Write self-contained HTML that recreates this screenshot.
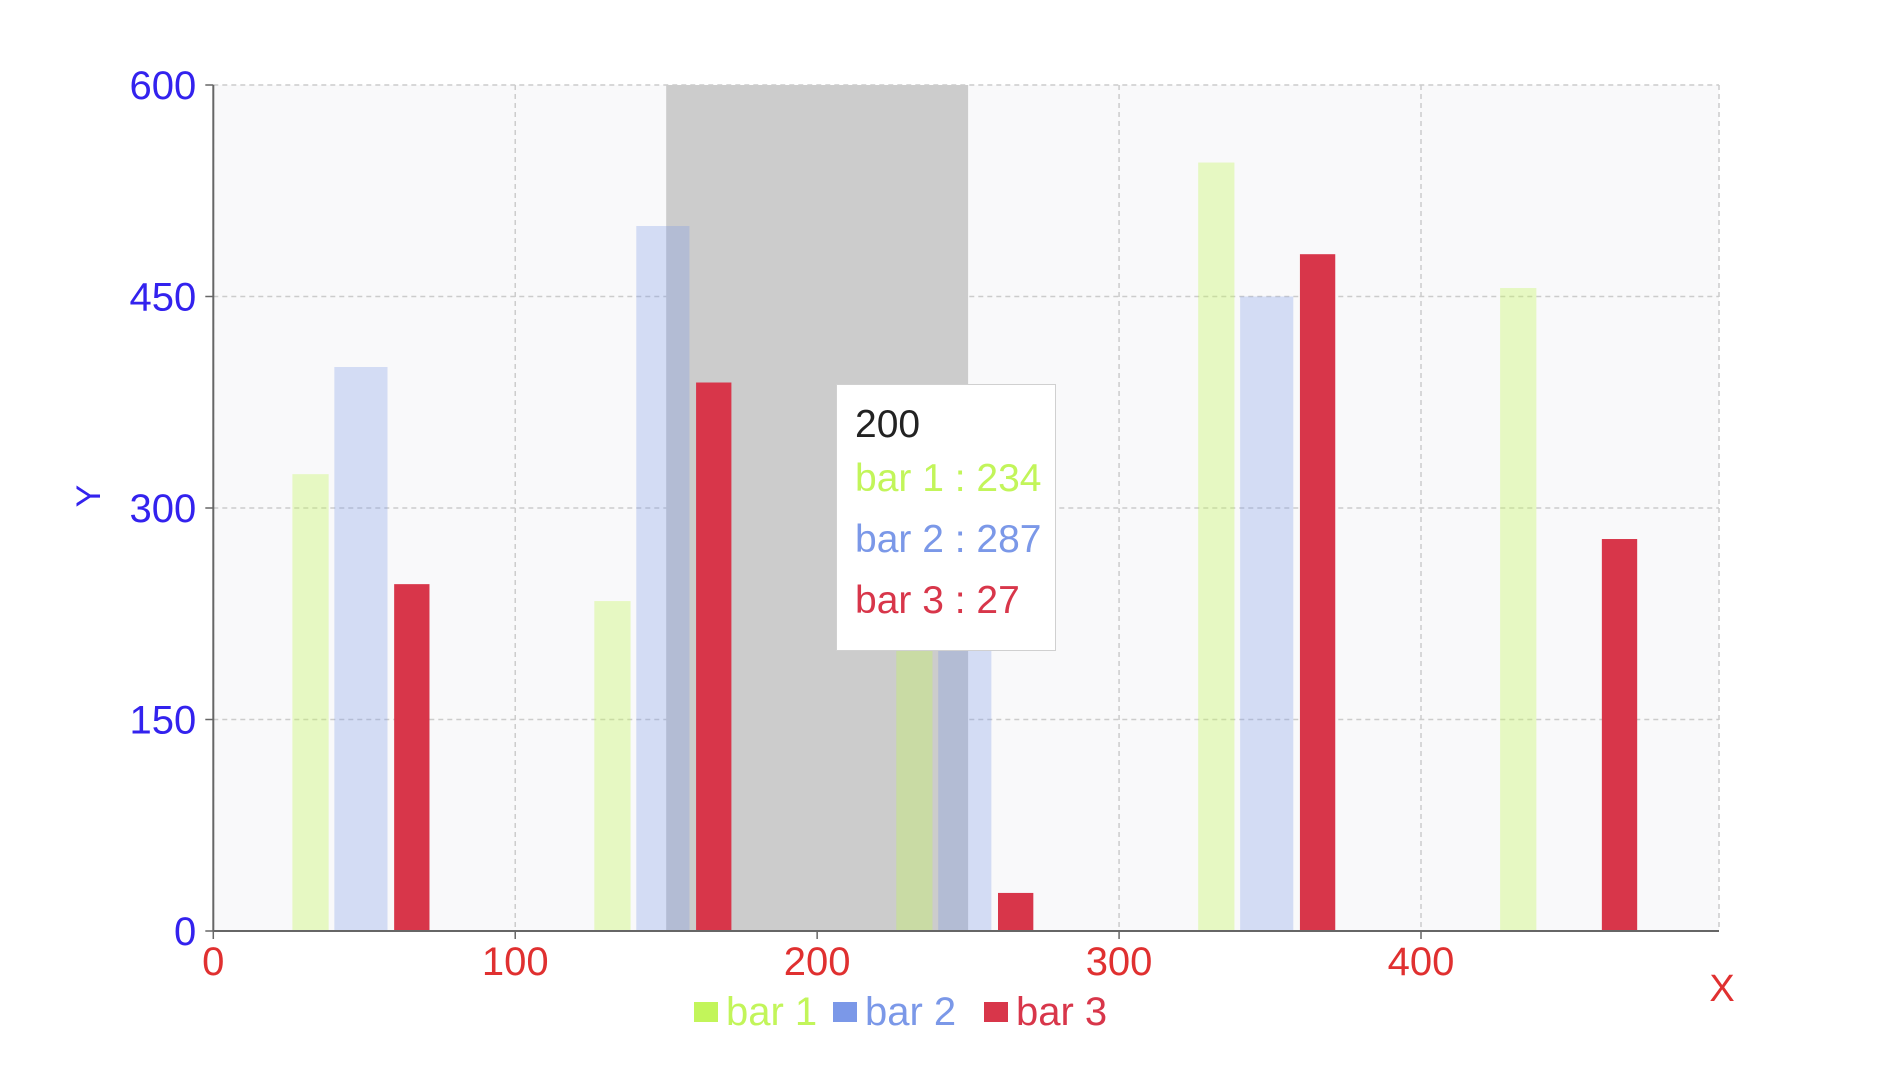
<!DOCTYPE html>
<html><head><meta charset="utf-8"><style>
html,body{margin:0;padding:0;background:#fff;}
svg{display:block;font-family:"Liberation Sans",sans-serif;}
</style></head><body>
<svg id="chart" width="1877" height="1079">
<rect x="213.3" y="85" width="1505.7" height="846" fill="#f9f9fa"/>
<g id="grid"></g>
<rect id="hl" fill="#cccccc"/>
<g id="bars"></g>
<g id="axes"></g>
<g>
  <rect x="694" y="1002" width="24" height="20" fill="#c2f55a"/>
  <text x="726" y="1025" font-size="40" fill="#c2f55a">bar 1</text>
  <rect x="833" y="1002" width="24" height="20" fill="#7b98e8"/>
  <text x="865" y="1025" font-size="40" fill="#7b98e8">bar 2</text>
  <rect x="984" y="1002" width="24" height="20" fill="#d8364a"/>
  <text x="1016" y="1025" font-size="40" fill="#d8364a">bar 3</text>
</g>
<text x="1722" y="1001" font-size="38" fill="#e03030" text-anchor="middle">X</text>
<text transform="translate(100,496) rotate(-90)" font-size="34" fill="#3322ee" text-anchor="middle">Y</text>
<g>
  <rect x="836.5" y="384.5" width="219" height="266" fill="#fff" stroke="#d0d0d0"/>
  <text x="855" y="437" font-size="39" fill="#222">200</text>
  <text x="855" y="491" font-size="39" fill="#c2f55a">bar 1 : 234</text>
  <text x="855" y="552" font-size="39" fill="#7b98e8">bar 2 : 287</text>
  <text x="855" y="613" font-size="39" fill="#d8364a">bar 3 : 27</text>
</g>
</svg>
<script>
const categories = [0, 100, 200, 300, 400];
const bar1 = [324, 234, 234, 545, 456];
const bar2 = [400, 500, 287, 450, 0];
const bar3 = [246, 389, 27, 480, 278];
const xTicks = [0, 100, 200, 300, 400];
const yTicks = [0, 150, 300, 450, 600];
const highlightRange = [150, 250];

const NS = "http://www.w3.org/2000/svg";
const X0 = 213.3, X1 = 1719, Y0 = 931, Y1 = 85;
const xMax = 498.7;
const xs = v => X0 + v / xMax * (X1 - X0);
const ys = v => Y0 - v / 600 * (Y0 - Y1);
function mk(tag, attrs, parent) {
  const e = document.createElementNS(NS, tag);
  for (const k in attrs) e.setAttribute(k, attrs[k]);
  parent.appendChild(e);
  return e;
}
const grid = document.getElementById('grid');
const axes = document.getElementById('axes');
const bars = document.getElementById('bars');
yTicks.forEach(t => {
  const l = mk('line', {x1: X0, x2: X1, y1: ys(t), y2: ys(t), stroke: '#cccccc', 'stroke-width': 1.5, 'stroke-dasharray': '5,4'}, grid);
  
  
  const tk = mk('line', {x1: X0 - 8, x2: X0, y1: ys(t), y2: ys(t), stroke: '#666', 'stroke-width': 1.5}, axes);
  
  
  const tx = mk('text', {x: X0 - 17, y: ys(t) + 14, 'font-size': 40, fill: '#3322ee', 'text-anchor': 'end'}, axes);
  tx.textContent = t;
  
  
});
xTicks.concat([xMax]).forEach(t => {
  const l = mk('line', {x1: xs(t), x2: xs(t), y1: Y1, y2: Y0, stroke: '#cccccc', 'stroke-width': 1.5, 'stroke-dasharray': '5,4'}, grid);
  
  
});
xTicks.forEach(t => {
  const tk = mk('line', {x1: xs(t), x2: xs(t), y1: Y0, y2: Y0 + 8, stroke: '#666', 'stroke-width': 1.5}, axes);
  
  
  const tx = mk('text', {x: xs(t), y: Y0 + 44, 'font-size': 40, fill: '#e03030', 'text-anchor': 'middle'}, axes);
  tx.textContent = t;
  
  
});
const ax = mk('line', {x1: X0, x2: X1, y1: Y0, y2: Y0, stroke: '#666', 'stroke-width': 2}, axes);


const ay = mk('line', {x1: X0, x2: X0, y1: Y1, y2: Y0, stroke: '#666', 'stroke-width': 2}, axes);



const hl = document.getElementById('hl');
hl.setAttribute('x', xs(highlightRange[0]));
hl.setAttribute('y', Y1);
hl.setAttribute('width', xs(highlightRange[1]) - xs(highlightRange[0]));
hl.setAttribute('height', Y0 - Y1);

const series = [
  {vals: bar1, off: 26.2, w: 12, fill: '#c2f55a', op: 0.35, name: 'bar-1'},
  {vals: bar2, off: 40.1, w: 17.6, fill: '#7b98e8', op: 0.3, name: 'bar-2'},
  {vals: bar3, off: 59.9, w: 11.7, fill: '#d8364a', op: 1, name: 'bar-3'}
];
series.forEach(s => {
  categories.forEach((c, i) => {
    const v = s.vals[i];
    if (!v) return;
    const r = mk('rect', {x: xs(c + s.off), y: ys(v), width: xs(s.w) - xs(0), height: ys(0) - ys(v), fill: s.fill, 'fill-opacity': s.op}, bars);
    
    
  });
});
</script>
</body></html>
